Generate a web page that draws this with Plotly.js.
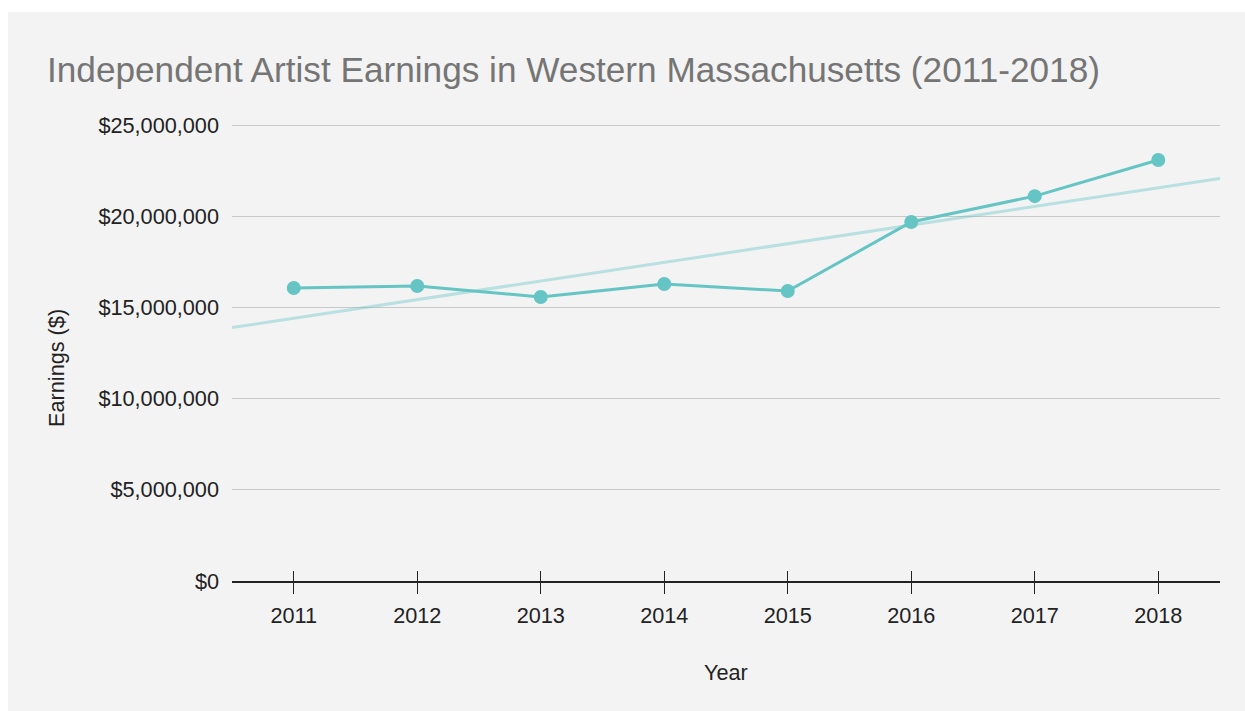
<!DOCTYPE html>
<html>
<head>
<meta charset="utf-8">
<script src="https://cdn.plot.ly/plotly-3.0.1.min.js"></script>
<style>
  html, body { margin: 0; padding: 0; background: #ffffff; }
  #chart { position: absolute; left: 8px; top: 12px; width: 1237px; height: 699px; }
</style>
</head>
<body>
<div id="chart"></div>
<script>
const years = [2011, 2012, 2013, 2014, 2015, 2016, 2017, 2018];
const yearLabels = ['2011', '2012', '2013', '2014', '2015', '2016', '2017', '2018'];
const earnings = [16060000, 16170000, 15570000, 16280000, 15900000, 19680000, 21100000, 23080000];
const yTicks = [0, 5000000, 10000000, 15000000, 20000000, 25000000];
const yTickLabels = ['$0', '$5,000,000', '$10,000,000', '$15,000,000', '$20,000,000', '$25,000,000'];

const chartTitle = 'Independent Artist Earnings in Western Massachusetts (2011-2018)';
const xTitle = 'Year';
const yTitle = 'Earnings ($)';

// Linear trendline (least squares) computed from the data
const n = years.length;
const mx = years.reduce((a, b) => a + b, 0) / n;
const my = earnings.reduce((a, b) => a + b, 0) / n;
let sxy = 0, sxx = 0;
for (let i = 0; i < n; i++) { sxy += (years[i] - mx) * (earnings[i] - my); sxx += (years[i] - mx) ** 2; }
const slope = sxy / sxx;
const intercept = my - slope * mx;
const xRange = [years[0] - 0.5, years[n - 1] + 0.5];
const trendX = xRange;
const trendY = trendX.map(x => intercept + slope * x);

const teal = '#65c4c4';
const font = 'Liberation Sans, Arial, sans-serif';
const fs = 21.7;

// plot area: 456 px for 25M; extend top by 2px so the top gridline is drawn
const yTop = 25000000 * (458 / 456);

const traces = [
  {
    x: trendX, y: trendY, xaxis: 'x', yaxis: 'y',
    type: 'scatter', mode: 'lines',
    line: { color: teal, width: 3 }, opacity: 0.4,
    hoverinfo: 'skip', showlegend: false
  },
  {
    x: years, y: earnings, xaxis: 'x2', yaxis: 'y',
    type: 'scatter', mode: 'lines+markers',
    line: { color: teal, width: 3 },
    marker: { color: teal, size: 14 },
    showlegend: false
  }
];

const layout = {
  width: 1237, height: 699,
  paper_bgcolor: '#f3f3f3', plot_bgcolor: '#f3f3f3',
  margin: { l: 224, r: 25, t: 111, b: 130 },
  font: { family: font, size: fs, color: '#222222' },
  showlegend: false,
  title: {
    text: chartTitle,
    font: { family: font, size: 35.2, color: '#757575' },
    xref: 'container', yref: 'container',
    x: 39 / 1237, xanchor: 'left',
    y: 1 - 58 / 699, yanchor: 'middle'
  },
  xaxis: {
    type: 'linear', range: xRange,
    tickmode: 'array', tickvals: years, ticktext: yearLabels,
    ticks: 'outside', ticklen: 11, tickwidth: 1.3, tickcolor: '#222222',
    ticklabelstandoff: 3,
    showline: true, linecolor: '#222222', linewidth: 1.5,
    showgrid: false, zeroline: false,
    tickfont: { family: font, size: fs, color: '#222222' },
    fixedrange: true
  },
  xaxis2: {
    type: 'linear', range: xRange, overlaying: 'x', anchor: 'y', side: 'bottom',
    tickmode: 'array', tickvals: years,
    ticks: 'inside', ticklen: 10, tickwidth: 1.3, tickcolor: '#222222',
    showticklabels: false, showline: false, showgrid: false, zeroline: false,
    fixedrange: true
  },
  yaxis: {
    range: [0, yTop],
    tickmode: 'array', tickvals: yTicks, ticktext: yTickLabels,
    showgrid: true, gridcolor: '#c8c8c8', gridwidth: 1,
    zeroline: false, showline: false, ticks: '',
    ticklabelstandoff: 12,
    tickfont: { family: font, size: fs, color: '#222222' },
    fixedrange: true
  },
  annotations: [
    {
      text: xTitle, xref: 'paper', yref: 'paper',
      x: 0.5, y: (581 - 672) / 458, xanchor: 'center', yanchor: 'middle',
      showarrow: false, font: { family: font, size: fs, color: '#222222' }
    },
    {
      text: yTitle, xref: 'paper', yref: 'paper', textangle: -90,
      x: (56 - 232) / 988, y: (581 - 368) / 458, xanchor: 'center', yanchor: 'middle',
      showarrow: false, font: { family: font, size: fs, color: '#222222' }
    }
  ]
};

Plotly.newPlot('chart', traces, layout, { displayModeBar: false, responsive: false });
</script>
</body>
</html>
